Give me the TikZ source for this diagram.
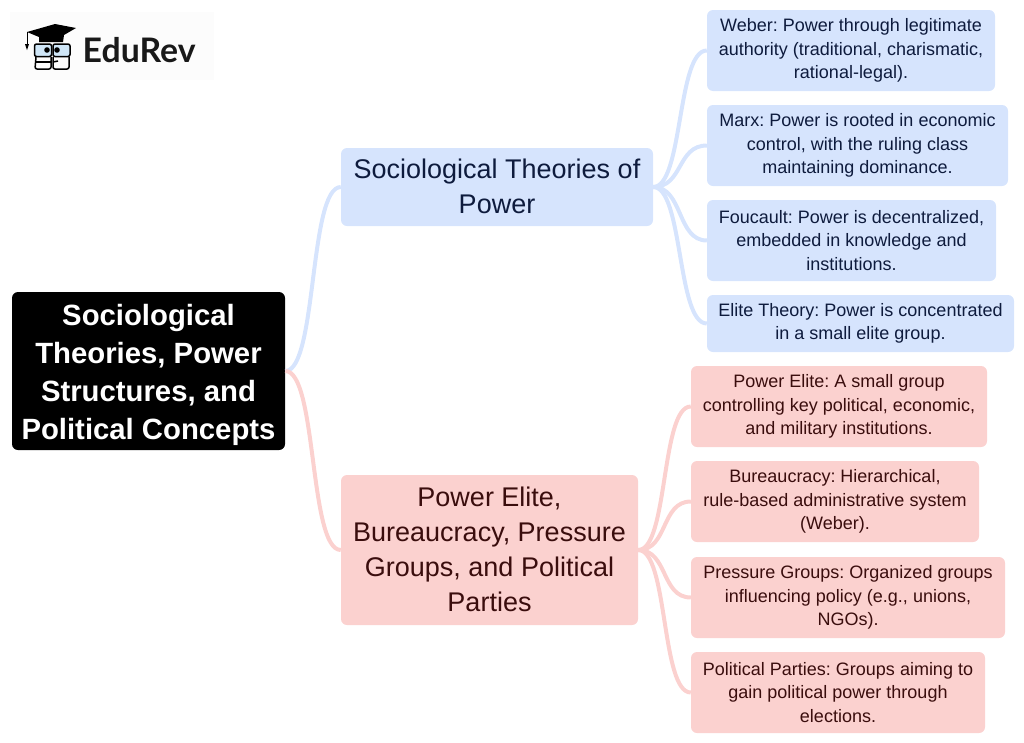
\documentclass[tikz,border=0pt]{standalone}
\usepackage{fontspec}
\setmainfont{Liberation Sans}
\newfontfamily\logofont{Lato}
\definecolor{azulCaixa}{HTML}{D6E4FD}
\definecolor{azulTexto}{HTML}{0E1B3D}
\definecolor{rosaCaixa}{HTML}{FBD1CF}
\definecolor{rosaTexto}{HTML}{3A0D0D}
\definecolor{azulOculos}{HTML}{CFE6F7}
\frenchspacing
\begin{document}
\begin{tikzpicture}[x=1pt,y=-1pt]
%============================================================
%  Estilos dos nos e das ligacoes
%============================================================
\tikzset{
    % --- caixas ------
    caixa/.style={
            rectangle,
            rounded corners=6pt,
            align=center,
            inner sep=0pt
        },
    raiz/.style={caixa,
            fill=black,
            text=white,
            font=\fontsize{29.3}{38}\selectfont\bfseries
        },
    ramoAzul/.style={caixa,
            fill=azulCaixa,
            text=azulTexto,
            font=\fontsize{27}{35}\selectfont
        },
    ramoRosa/.style={caixa,
            fill=rosaCaixa,
            text=rosaTexto,
            font=\fontsize{27}{35}\selectfont
        },
    folhaAzul/.style={caixa,
            fill=azulCaixa,
            text=azulTexto,
            execute at begin node=\rule{0pt}{14.5pt},
            font=\fontsize{18}{23.6}\selectfont
        },
    folhaRosa/.style={caixa,
            fill=rosaCaixa,
            text=rosaTexto,
            execute at begin node=\rule{0pt}{14.5pt},
            font=\fontsize{18}{23.6}\selectfont
        },
    % --- ligacoes ------
    ligaAzul/.style={
            draw=azulCaixa,
            line width=4pt
        },
    ligaRosa/.style={
            draw=rosaCaixa,
            line width=4pt
        },
    % --- logotipo ------
    traco/.style={
            draw=black,
            line width=1.5pt,
            rounded corners=2pt
        },
    lente/.style={traco,
            fill=azulOculos
        }
}

   \useasboundingbox (0,0) rectangle (1024,742);

   % logotipo
   \fill[black!1] (10,12) rectangle (214,80);
   \fill[black] (27,32) -- (55,24) -- (76,28) -- (64,35) -- (63,42) -- (39,42) -- (39,37) -- cycle;
   \draw[black,line width=1pt] (27,32) -- (27,45);
   \fill[black] (25,44) -- (29,44) -- (27,50) -- cycle;
   \draw[lente] (34.5,44) rectangle (51.5,56.5);
   \draw[lente] (53,44) rectangle (70,56.5);
   \fill[black] (47,50) circle (2.8pt);
   \fill[black] (57,50) circle (2.8pt);
   \draw[traco] (36,57) -- (35,69) -- (51,69) -- (51,57);
   \draw[traco] (53,57) -- (53,69) -- (69,69) -- (69,57);
   \draw[traco] (36,62) -- (51,62);
   \draw[traco] (53,62) -- (58,61);
   \node[anchor=base west,inner sep=0pt,font=\logofont\fontsize{33.8}{34}\selectfont\bfseries,text=black!90] (logo) at (82.5,62) {EduRev};

   % caixa central
   \node[raiz,minimum width=273pt,minimum height=158pt] (central) at (148.5,371) {\rule{0pt}{29pt}Sociological\\Theories, Power\\Structures, and\\Political Concepts};

   % ramos
   \node[ramoAzul,minimum width=312pt,minimum height=78pt] (teorias) at (497,187) {Sociological Theories of\\Power\rule[-2pt]{0pt}{0pt}};
   \node[ramoRosa,minimum width=297pt,minimum height=150pt] (elite) at (489.5,550) {Power Elite,\\Bureaucracy, Pressure\\Groups, and Political\\Parties\rule[-2pt]{0pt}{0pt}};

   % folhas azuis
   \node[folhaAzul,minimum width=288pt,minimum height=81pt] (weber) at (851,50.5) {Weber: Power through legitimate\\authority (traditional, charismatic,\\rational-legal).};
   \node[folhaAzul,minimum width=301pt,minimum height=81pt] (marx) at (857.5,145.5) {Marx: Power is rooted in economic\\control, with the ruling class\\maintaining dominance.};
   \node[folhaAzul,minimum width=289pt,minimum height=81pt] (foucault) at (851.5,240.5) {Foucault: Power is decentralized,\\embedded in knowledge and\\institutions.};
   \node[folhaAzul,minimum width=307pt,minimum height=57pt] (eliteTeoria) at (860.5,323.5) {Elite Theory: Power is concentrated\\in a small elite group.};

   % folhas rosa
   \node[folhaRosa,minimum width=296pt,minimum height=81pt] (powerElite) at (839,406.5) {Power Elite: A small group\\controlling key political, economic,\\and military institutions.};
   \node[folhaRosa,minimum width=288pt,minimum height=81pt] (burocracia) at (835,501.5) {Bureaucracy: Hierarchical,\\rule-based administrative system\\(Weber).};
   \node[folhaRosa,minimum width=314pt,minimum height=81pt] (pressao) at (848,597.5) {Pressure Groups: Organized groups\\influencing policy (e.g., unions,\\NGOs).};
   \node[folhaRosa,minimum width=294pt,minimum height=81pt] (partidos) at (838,692.5) {Political Parties: Groups aiming to\\gain political power through\\elections.};

   % ligacoes
   \draw[ligaAzul] (central.east) .. controls +(32,0) and +(-32,0) .. (teorias.west);
   \draw[ligaRosa] (central.east) .. controls +(32,0) and +(-32,0) .. (elite.west);
   \draw[ligaAzul] (teorias.east) .. controls +(30,0) and +(-30,0) .. (weber.west);
   \draw[ligaAzul] (teorias.east) .. controls +(30,0) and +(-30,0) .. (marx.west);
   \draw[ligaAzul] (teorias.east) .. controls +(30,0) and +(-30,0) .. (foucault.west);
   \draw[ligaAzul] (teorias.east) .. controls +(30,0) and +(-30,0) .. (eliteTeoria.west);
   \draw[ligaRosa] (elite.east) .. controls +(30,0) and +(-30,0) .. (powerElite.west);
   \draw[ligaRosa] (elite.east) .. controls +(30,0) and +(-30,0) .. (burocracia.west);
   \draw[ligaRosa] (elite.east) .. controls +(30,0) and +(-30,0) .. (pressao.west);
   \draw[ligaRosa] (elite.east) .. controls +(30,0) and +(-30,0) .. (partidos.west);
\end{tikzpicture}
\end{document}
